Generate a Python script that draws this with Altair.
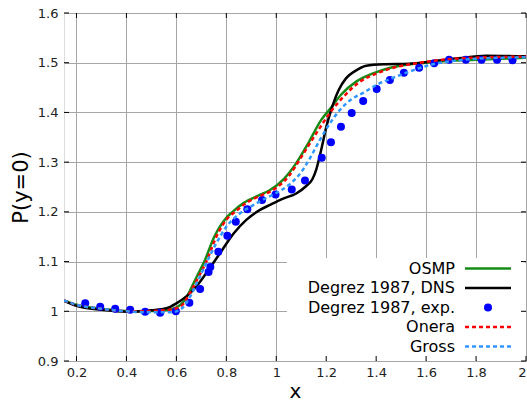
import altair as alt
import pandas as pd

# ---------------- data ----------------
osmp_x = [0.15, 0.2, 0.25, 0.3, 0.35, 0.4, 0.45, 0.5, 0.55, 0.6, 0.63, 0.65, 0.68, 0.712, 0.75,
          0.8, 0.825, 0.87, 0.93, 0.975, 1.03, 1.08, 1.13, 1.18, 1.22, 1.26, 1.32, 1.39, 1.45,
          1.52, 1.6, 1.7, 1.8, 1.9, 2.0]
osmp_y = [1.022, 1.013, 1.008, 1.005, 1.002, 1.0005, 1.0, 1.0005, 1.002, 1.008, 1.02, 1.037, 1.068,
          1.1, 1.148, 1.188, 1.2, 1.218, 1.233, 1.244, 1.266, 1.298, 1.34, 1.385, 1.41, 1.436,
          1.462, 1.479, 1.489, 1.496, 1.5, 1.504, 1.506, 1.508, 1.51]

dns_x = [0.15, 0.2, 0.3, 0.4, 0.5, 0.56, 0.6, 0.64, 0.67, 0.72, 0.775, 0.83, 0.88, 0.935, 0.975,
         1.03, 1.08, 1.12, 1.145, 1.16, 1.18, 1.2, 1.22, 1.25, 1.28, 1.315, 1.36, 1.43, 1.53,
         1.63, 1.73, 1.84, 2.0]
dns_y = [1.021, 1.011, 1.003, 0.999, 1.002, 1.006, 1.016, 1.03, 1.044, 1.077, 1.117, 1.157, 1.184,
         1.204, 1.214, 1.227, 1.237, 1.252, 1.266, 1.285, 1.325, 1.37, 1.405, 1.445, 1.469,
         1.483, 1.494, 1.497, 1.498, 1.503, 1.509, 1.514, 1.513]

exp_x = [0.235, 0.295, 0.355, 0.415, 0.475, 0.535, 0.598, 0.652, 0.695, 0.729, 0.736, 0.768,
         0.804, 0.838, 0.884, 0.943, 0.997, 1.062, 1.115, 1.182, 1.219, 1.259, 1.302, 1.348,
         1.402, 1.455, 1.511, 1.572, 1.632, 1.692, 1.759, 1.822, 1.884, 1.946]
exp_y = [1.016, 1.009, 1.005, 1.003, 0.999, 0.997, 1.0, 1.017, 1.045, 1.079, 1.089, 1.120,
         1.152, 1.180, 1.205, 1.224, 1.235, 1.245, 1.263, 1.309, 1.340, 1.371, 1.399, 1.423,
         1.447, 1.465, 1.480, 1.490, 1.499, 1.506, 1.506, 1.506, 1.506, 1.505]

onera_x = [0.15, 0.2, 0.25, 0.3, 0.35, 0.4, 0.45, 0.5, 0.55, 0.6, 0.63, 0.65, 0.69, 0.72, 0.76,
           0.81, 0.835, 0.88, 0.94, 0.98, 1.05, 1.1, 1.16, 1.215, 1.27, 1.33, 1.4, 1.47, 1.55,
           1.65, 1.75, 1.85, 2.0]
onera_y = [1.022, 1.013, 1.008, 1.005, 1.002, 1.0005, 1.0, 1.0005, 1.002, 1.006, 1.016, 1.033,
           1.07, 1.1, 1.15, 1.19, 1.2, 1.218, 1.233, 1.242, 1.272, 1.31, 1.358, 1.399, 1.432,
           1.46, 1.478, 1.49, 1.498, 1.505, 1.509, 1.511, 1.512]

gross_x = [0.15, 0.2, 0.3, 0.4, 0.5, 0.58, 0.62, 0.65, 0.68, 0.72, 0.76, 0.8, 0.855, 0.91, 0.96,
           1.0, 1.05, 1.1, 1.135, 1.175, 1.215, 1.255, 1.3, 1.35, 1.4, 1.47, 1.55, 1.62, 1.7,
           1.8, 1.9, 2.0]
gross_y = [1.022, 1.013, 1.005, 1.0, 0.998, 0.998, 1.005, 1.025, 1.055, 1.097, 1.137, 1.17,
           1.197, 1.214, 1.228, 1.238, 1.254, 1.28, 1.308, 1.345, 1.378, 1.405, 1.426, 1.44,
           1.455, 1.47, 1.485, 1.496, 1.503, 1.508, 1.51, 1.511]

x_ticks = [0.2, 0.4, 0.6, 0.8, 1.0, 1.2, 1.4, 1.6, 1.8, 2.0]
y_ticks = [0.9, 1.0, 1.1, 1.2, 1.3, 1.4, 1.5, 1.6]

labels = ["OSMP", "Degrez 1987, DNS", "Degrez 1987, exp.", "Onera", "Gross"]
colors = ["#168c16", "#000000", "#0000ff", "#ff0000", "#2f97ff"]

# ---------------- layout ----------------
W, H = 462, 348
FONT = "DejaVu Sans"

xsc = alt.Scale(domain=[0.15, 2.0], nice=False, zero=False)
ysc = alt.Scale(domain=[0.9, 1.6], nice=False, zero=False)

xaxis = alt.Axis(values=x_ticks, format="~g", grid=True, ticks=False, tickSize=0, domain=False,
                 labelPadding=5, labelFontSize=13, labelFont=FONT, labelColor="#222222",
                 title="x", titleFontSize=20, titleFont=FONT, titleFontWeight="normal",
                 titleColor="#000000", titlePadding=2, gridColor="#a6a6a6", gridWidth=1)
yaxis = alt.Axis(values=y_ticks, format="~g", grid=True, ticks=False, tickSize=0, domain=False,
                 labelPadding=6, labelFontSize=13, labelFont=FONT, labelColor="#222222",
                 title="P(y=0)", titleFontSize=21, titleFont=FONT, titleFontWeight="normal",
                 titleColor="#000000", titlePadding=6, gridColor="#a6a6a6", gridWidth=1)

X = alt.X("x:Q", scale=xsc, axis=xaxis)
Y = alt.Y("y:Q", scale=ysc, axis=yaxis)


def df(xs, ys):
    return pd.DataFrame({"x": xs, "y": ys})


osmp = alt.Chart(df(osmp_x, osmp_y)).mark_line(
    color=colors[0], strokeWidth=2.5, interpolate="monotone", clip=True).encode(x=X, y=Y)
dns = alt.Chart(df(dns_x, dns_y)).mark_line(
    color=colors[1], strokeWidth=2.5, interpolate="monotone", clip=True).encode(x=X, y=Y)
expp = alt.Chart(df(exp_x, exp_y)).mark_point(
    color=colors[2], filled=True, opacity=1, size=64, shape="circle").encode(x=X, y=Y)
onera = alt.Chart(df(onera_x, onera_y)).mark_line(
    color=colors[3], strokeWidth=2.5, strokeDash=[4, 3], interpolate="monotone",
    clip=True).encode(x=X, y=Y)
gross = alt.Chart(df(gross_x, gross_y)).mark_line(
    color=colors[4], strokeWidth=2.5, strokeDash=[4, 3], interpolate="monotone",
    clip=True).encode(x=X, y=Y)

one = pd.DataFrame({"k": [0]})

# legend background (covers grid)
leg_bg = alt.Chart(one).mark_rect(fill="white").encode(
    x=alt.value(223), x2=alt.value(W - 1), y=alt.value(245), y2=alt.value(H - 1))

# inward ticks on all four sides
xt = pd.DataFrame({"x": x_ticks})
yt = pd.DataFrame({"y": y_ticks})
tick_b = alt.Chart(xt).mark_rule(color="black", strokeWidth=1).encode(
    x=X, y=alt.value(H), y2=alt.value(H - 5))
tick_t = alt.Chart(xt).mark_rule(color="black", strokeWidth=1).encode(
    x=X, y=alt.value(0), y2=alt.value(5))
tick_l = alt.Chart(yt).mark_rule(color="black", strokeWidth=1).encode(
    y=Y, x=alt.value(0), x2=alt.value(5))
tick_r = alt.Chart(yt).mark_rule(color="black", strokeWidth=1).encode(
    y=Y, x=alt.value(W), x2=alt.value(W - 5))

# manual legend (text right-aligned, sample on the right, as in gnuplot)
leg_layers = []
row0, step = 255.5, 19.5
for i, (lab, col) in enumerate(zip(labels, colors)):
    yy = row0 + step * i
    leg_layers.append(
        alt.Chart(pd.DataFrame({"label": [lab]})).mark_text(
            align="right", baseline="middle", fontSize=16, font=FONT, color="black").encode(
            text="label:N", x=alt.value(391), y=alt.value(yy)))
    if lab == "Degrez 1987, exp.":
        leg_layers.append(alt.Chart(one).mark_point(
            color=col, filled=True, opacity=1, size=64, shape="circle").encode(
            x=alt.value(424), y=alt.value(yy)))
    else:
        kw = dict(color=col, strokeWidth=2.5)
        if lab in ("Onera", "Gross"):
            kw["strokeDash"] = [4, 3]
        leg_layers.append(alt.Chart(one).mark_rule(**kw).encode(
            x=alt.value(401), x2=alt.value(447), y=alt.value(yy)))

chart = alt.layer(
    osmp, dns, expp, onera, gross, leg_bg, tick_b, tick_t, tick_l, tick_r, *leg_layers
).properties(
    width=W, height=H,
    autosize=alt.AutoSizeParams(type="none"),
    padding={"left": 64, "top": 13, "right": 1, "bottom": 40},
).configure_view(
    stroke="black", strokeWidth=1.5
).configure(background="white")

chart.save("out.html", embed_options={"renderer": "svg", "actions": False})
